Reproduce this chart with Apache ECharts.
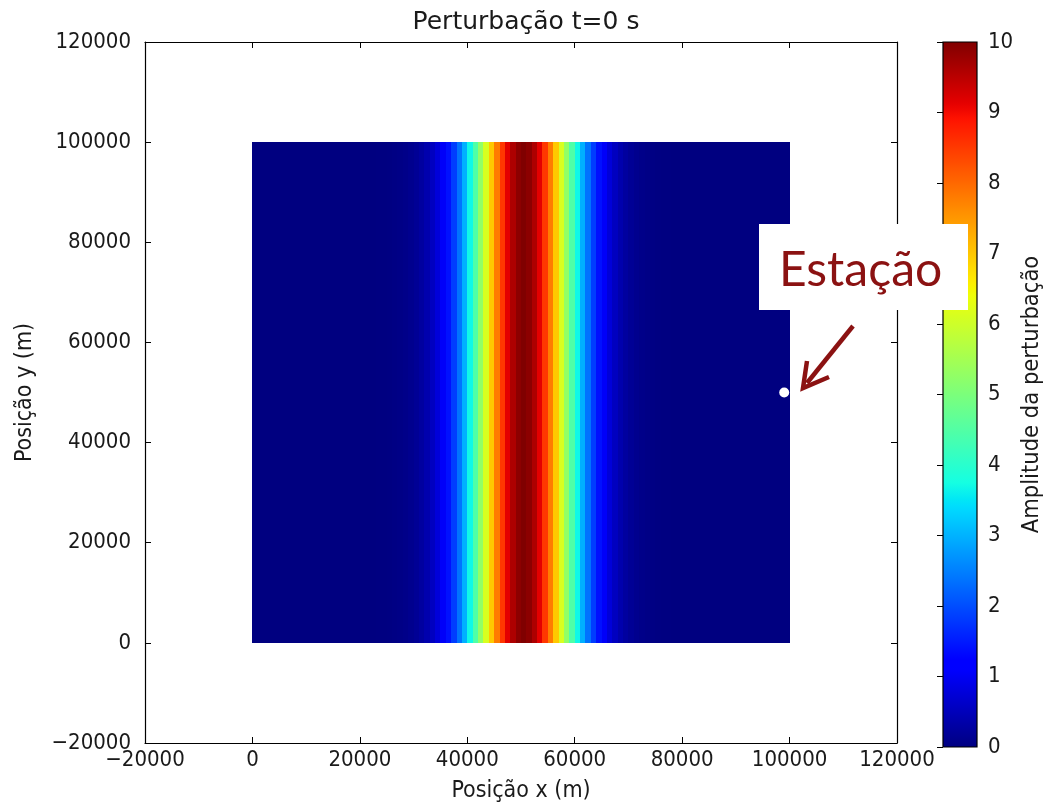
<!DOCTYPE html>
<html>
<head>
<meta charset="utf-8">
<script src="https://cdn.jsdelivr.net/npm/echarts@6/dist/echarts.min.js"></script>
<style>
  html, body { margin: 0; padding: 0; background: #ffffff; }
  #chart { width: 1050px; height: 808px; }
</style>
</head>
<body>
<div id="chart"></div>
<script>
// Column edges along x (m); each column spans the whole y range of the field
const columnEdges = [
  0, 1000, 2000, 3000, 4000, 5000, 6000, 7000, 8000, 9000,
  10000, 11000, 12000, 13000, 14000, 15000, 16000, 17000, 18000, 19000,
  20000, 21000, 22000, 23000, 24000, 25000, 26000, 27000, 28000, 29000,
  30000, 31000, 32000, 33000, 34000, 35000, 36000, 37000, 38000, 39000,
  40000, 41000, 42000, 43000, 44000, 45000, 46000, 47000, 48000, 49000,
  50000, 51000, 52000, 53000, 54000, 55000, 56000, 57000, 58000, 59000,
  60000, 61000, 62000, 63000, 64000, 65000, 66000, 67000, 68000, 69000,
  70000, 71000, 72000, 73000, 74000, 75000, 76000, 77000, 78000, 79000,
  80000, 81000, 82000, 83000, 84000, 85000, 86000, 87000, 88000, 89000,
  90000, 91000, 92000, 93000, 94000, 95000, 96000, 97000, 98000, 99000,
  100000
];

// Perturbation amplitude of each column at t = 0 s
const amplitude = [
  0, 0, 0, 0, 0, 0, 0, 0, 0, 0,
  0, 0, 0, 0, 0, 0, 0, 0, 0, 0,
  0.001, 0.002, 0.004, 0.007, 0.012, 0.019, 0.032, 0.050, 0.079, 0.122,
  0.183, 0.271, 0.392, 0.556, 0.773, 1.054, 1.409, 1.845, 2.369, 2.982,
  3.679, 4.449, 5.273, 6.126, 6.977, 7.788, 8.521, 9.139, 9.608, 9.900,
  10.000, 9.900, 9.608, 9.139, 8.521, 7.788, 6.977, 6.126, 5.273, 4.449,
  3.679, 2.982, 2.369, 1.845, 1.409, 1.054, 0.773, 0.556, 0.392, 0.271,
  0.183, 0.122, 0.079, 0.050, 0.032, 0.019, 0.012, 0.007, 0.004, 0.002,
  0.001, 0, 0, 0, 0, 0, 0, 0, 0, 0,
  0, 0, 0, 0, 0, 0, 0, 0, 0, 0
];

// Field extent in y (m)
const fieldY = [0, 100000];

// Station location (m)
const station = [99000, 50000];

// Axis ranges and tick spacing
const axisRange = [-20000, 120000];
const axisStep = 20000;
const colorRange = [0, 10];
const colorStep = 1;

// Jet colormap (piecewise-linear segment data)
const JET = {
  r: [[0, 0], [0.35, 0], [0.66, 1], [0.89, 1], [1, 0.5]],
  g: [[0, 0], [0.125, 0], [0.375, 1], [0.64, 1], [0.91, 0], [1, 0]],
  b: [[0, 0.5], [0.11, 1], [0.34, 1], [0.65, 0], [1, 0]]
};
function seg(points, t) {
  for (let i = 1; i < points.length; i++) {
    if (t <= points[i][0]) {
      const [x0, y0] = points[i - 1], [x1, y1] = points[i];
      return y0 + (y1 - y0) * (t - x0) / (x1 - x0);
    }
  }
  return points[points.length - 1][1];
}
function jet(t) {
  const c = ['r', 'g', 'b'].map(k => Math.round(255 * seg(JET[k], t)));
  return 'rgb(' + c.join(',') + ')';
}
const jetSteps = 128;
const jetColors = [];
for (let i = 0; i <= jetSteps; i++) jetColors.push(jet(i / jetSteps));
const jetStops = jetColors.map((c, i) => ({ offset: 1 - i / jetSteps, color: c }));

const cells = amplitude.map((v, i) => [columnEdges[i], columnEdges[i + 1], v]);

const FONT = "'DejaVu Sans Condensed', 'DejaVu Sans', sans-serif";
const TITLE_FONT = "'DejaVu Sans', sans-serif";
const TXT = '#1a1a1a';
const minusFmt = v => String(v).replace('-', '\u2212');

const frameAxis = (pos, extra) => Object.assign({
  type: 'value',
  position: pos,
  min: axisRange[0], max: axisRange[1], interval: axisStep,
  axisLine: { show: true, onZero: false, lineStyle: { color: '#000', width: 1.2 } },
  axisTick: { show: true, inside: true, length: 6, lineStyle: { color: '#000' } },
  splitLine: { show: false },
  axisLabel: { show: false }
}, extra || {});

const chart = echarts.init(document.getElementById('chart'), null, { renderer: 'canvas' });

chart.setOption({
  animation: false,
  backgroundColor: '#ffffff',
  title: {
    text: 'Perturbação t=0 s',
    left: 521, top: 5, textAlign: 'center',
    textStyle: { fontFamily: TITLE_FONT, fontSize: 25, fontWeight: 'normal', color: TXT }
  },
  grid: [
    { left: 145, top: 42, width: 752, height: 705 },
    { left: 943, top: 42, width: 34, height: 705 }
  ],
  xAxis: [
    frameAxis('bottom', {
      gridIndex: 0,
      name: 'Posição x (m)', nameLocation: 'middle', nameGap: 37,
      nameTextStyle: { fontFamily: FONT, fontSize: 23, color: TXT },
      axisLabel: { show: true, margin: 6, fontFamily: FONT, fontSize: 22, color: TXT, formatter: minusFmt }
    }),
    frameAxis('top', { gridIndex: 0 }),
    { type: 'value', gridIndex: 1, min: 0, max: 1, show: false }
  ],
  yAxis: [
    frameAxis('left', {
      gridIndex: 0,
      name: 'Posição y (m)', nameLocation: 'middle', nameGap: 108, nameRotate: 90,
      nameTextStyle: { fontFamily: FONT, fontSize: 23, color: TXT },
      axisLabel: { show: true, margin: 14, fontFamily: FONT, fontSize: 22, color: TXT, formatter: minusFmt }
    }),
    frameAxis('right', { gridIndex: 0 }),
    {
      type: 'value', gridIndex: 1, position: 'right',
      min: colorRange[0], max: colorRange[1], interval: colorStep,
      axisLine: { show: false },
      axisTick: { show: true, inside: true, length: 6, lineStyle: { color: '#000' } },
      splitLine: { show: false },
      axisLabel: { show: true, margin: 11, fontFamily: FONT, fontSize: 22, color: TXT },
      name: 'Amplitude da perturbação', nameLocation: 'middle', nameGap: 43, nameRotate: 90,
      nameTextStyle: { fontFamily: FONT, fontSize: 23.5, color: TXT }
    }
  ],
  visualMap: {
    show: false,
    type: 'continuous',
    seriesIndex: 0,
    dimension: 2,
    min: colorRange[0], max: colorRange[1],
    inRange: { color: jetColors }
  },
  series: [
    {
      // perturbation field, one rectangle per column (snapped to whole pixels)
      type: 'custom',
      xAxisIndex: 0, yAxisIndex: 0,
      data: cells,
      encode: { x: [0, 1] },
      renderItem: function (params, api) {
        const a = api.coord([api.value(0), fieldY[1]]);
        const b = api.coord([api.value(1), fieldY[0]]);
        const x0 = Math.round(a[0]), x1 = Math.round(b[0]);
        const y0 = Math.round(a[1]), y1 = Math.round(b[1]);
        return {
          type: 'rect',
          shape: { x: x0, y: y0, width: x1 - x0, height: y1 - y0 },
          style: { fill: api.visual('color') }
        };
      },
      z: 1
    },
    {
      // station marker
      type: 'scatter',
      xAxisIndex: 0, yAxisIndex: 0,
      data: [station],
      symbol: 'circle', symbolSize: 10,
      itemStyle: { color: '#ffffff', opacity: 1 },
      z: 3
    },
    {
      // colorbar
      type: 'custom',
      xAxisIndex: 2, yAxisIndex: 2,
      data: [[0, colorRange[1]]],
      renderItem: function (params, api) {
        const a = api.coord([0, colorRange[1]]);
        const b = api.coord([1, colorRange[0]]);
        return {
          type: 'rect',
          shape: { x: a[0], y: a[1], width: b[0] - a[0], height: b[1] - a[1] },
          style: {
            fill: new echarts.graphic.LinearGradient(0, 0, 0, 1, jetStops),
            stroke: '#000', lineWidth: 1.2
          }
        };
      },
      z: 1
    }
  ],
  graphic: [
    {
      type: 'rect', z: 100,
      shape: { x: 759, y: 224, width: 209, height: 86 },
      style: { fill: '#ffffff' }
    },
    {
      type: 'text', z: 101,
      x: 779, y: 271,
      style: {
        text: 'Estação', fill: '#8b1212',
        font: '48px Lato, "Open Sans", sans-serif',
        verticalAlign: 'middle', align: 'left'
      }
    },
    {
      type: 'line', z: 101,
      shape: { x1: 853, y1: 326, x2: 807, y2: 383 },
      style: { stroke: '#8b1212', lineWidth: 4.5, lineCap: 'butt' }
    },
    {
      type: 'polyline', z: 101,
      shape: { points: [[807, 361], [803, 388], [829, 377]] },
      style: { stroke: '#8b1212', lineWidth: 4.5, lineJoin: 'miter', fill: null }
    }
  ]
});
</script>
</body>
</html>
